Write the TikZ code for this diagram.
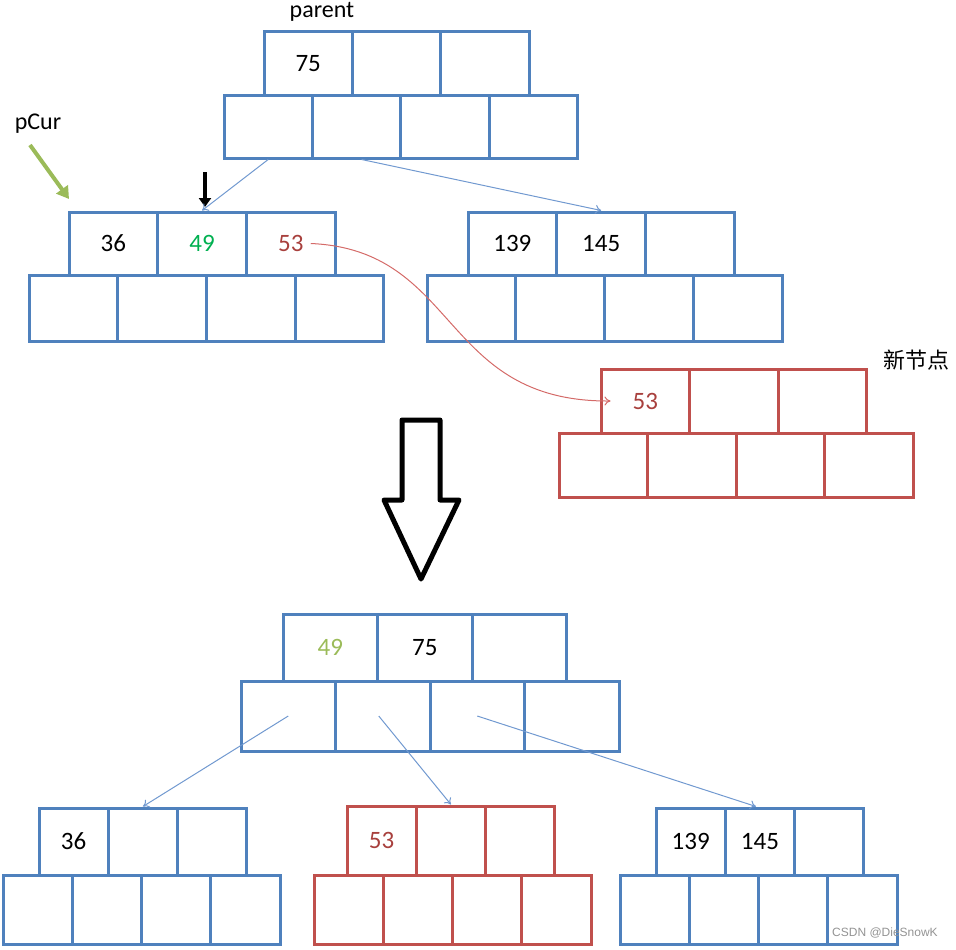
\documentclass[tikz,border=0pt]{standalone}
\usepackage{fontspec}
\setmainfont{Carlito}
\newfontfamily\cjk{Noto Sans CJK SC}
\newfontfamily\wmfont{Liberation Sans}
\usetikzlibrary{arrows.meta}
\definecolor{bbox}{HTML}{4F81BD}
\definecolor{rbox}{HTML}{C0504D}
\definecolor{lnk}{HTML}{7199D0}
\definecolor{rlnk}{HTML}{D46A68}
\definecolor{gtxt}{HTML}{00B050}
\definecolor{ltgreen}{HTML}{9BBB59}
\definecolor{rtxt}{HTML}{A8403D}
\tikzset{
  cell/.style={draw, line width=3pt, inner sep=0pt, font=\fontsize{25}{28}\selectfont},
  bluecell/.style={draw=bbox},
  redcell/.style={draw=rbox},
  link/.style={draw=lnk, line width=1pt, -{To[length=6pt,width=9pt]}},
  rlink/.style={draw=rlnk, line width=1pt, -{To[length=6pt,width=9pt]}},
  lbl/.style={font=\fontsize{24}{28}\selectfont, inner sep=0pt},
}
% #1 name, #2 top x, #3 bottom x, #4 cell width, #5 y top, #6 y mid, #7 y bottom, #8 style, #9 labels
\newcommand\bnode[9]{%
  \foreach \t [count=\i] in {#9} {
    \node[cell,#8,minimum width=#4,minimum height=#6-#5] (#1-t\i) at ({#2+(\i-0.5)*#4},{(#5+#6)/2}) {\t};
  }
  \foreach \i in {1,...,4} {
    \node[cell,#8,minimum width=#4,minimum height=#7-#6] (#1-b\i) at ({#3+(\i-0.5)*#4},{(#6+#7)/2}) {};
  }%
}
\begin{document}
\begin{tikzpicture}[x=1pt,y=-1pt]
\useasboundingbox (0,0) rectangle (956,950);
% upper picture
\bnode{p}{264}{224}{88.4}{32}{95}{158}{bluecell}{75,{},{}}
\bnode{l}{69}{29}{88.7}{212}{275}{341}{bluecell}{36,{\color{gtxt}49},{\color{rtxt}53}}
\bnode{r}{468}{427}{88.8}{212}{275}{341}{bluecell}{139,145,{}}
\bnode{n}{601}{559}{88.5}{369}{433}{497}{redcell}{{\color{rtxt}53},{},{}}
\node[lbl] (parent) at (322,12) {parent};
\node[lbl] (pcur) at (38,124) {pCur};
\node[lbl, font=\cjk\fontsize{22}{26}\selectfont] (newlbl) at (916,360) {新节点};
\coordinate (g1) at (30,145);
\coordinate (g2) at (69,199);
\draw[ltgreen, line width=4pt, -{Triangle[length=12pt,width=14pt]}] (g1) -- (g2);
\coordinate (k1) at (205,172);
\coordinate (k2) at (205,207);
\draw[black, line width=3.5pt, -{Triangle[length=9pt,width=12pt]}] (k1) -- (k2);
\draw[link] (p-b1.south) -- (l-t2.north);
\draw[link] ([xshift=5]p-b2.south) -- (r-t2.north);
\draw[rlink] ([xshift=20]l-t3.center) .. controls (460,250) and (440,402) .. ([xshift=11]n-t1.west);
% big arrow
\draw[line width=5pt, line join=round, fill=white] (402,420) -- (440,420) -- (440,500) -- (459,500) -- (421,579) -- (384,500) -- (402,500) -- cycle;
% lower picture
\bnode{bp}{283}{241}{94.5}{614}{681}{751}{bluecell}{{\color{ltgreen}49},75,{}}
\bnode{bl}{39}{3}{69.3}{808}{875}{944}{bluecell}{36,{},{}}
\bnode{bm}{347}{314}{69.3}{806}{875}{944}{redcell}{{\color{rtxt}53},{},{}}
\bnode{br}{656}{620}{69.3}{808}{875}{944}{bluecell}{139,145,{}}
\draw[link] (bp-b1.center) -- (bl-t2.north);
\draw[link] ([xshift=-4]bp-b2.center) -- (bm-t2.north);
\draw[link] (bp-b3.center) -- ([xshift=-4]br-t2.north);
\node[font=\wmfont\fontsize{12}{14}\selectfont, text=gray!85, inner sep=0pt] (wm) at (885,933) {CSDN @DieSnowK};
\end{tikzpicture}
\end{document}
